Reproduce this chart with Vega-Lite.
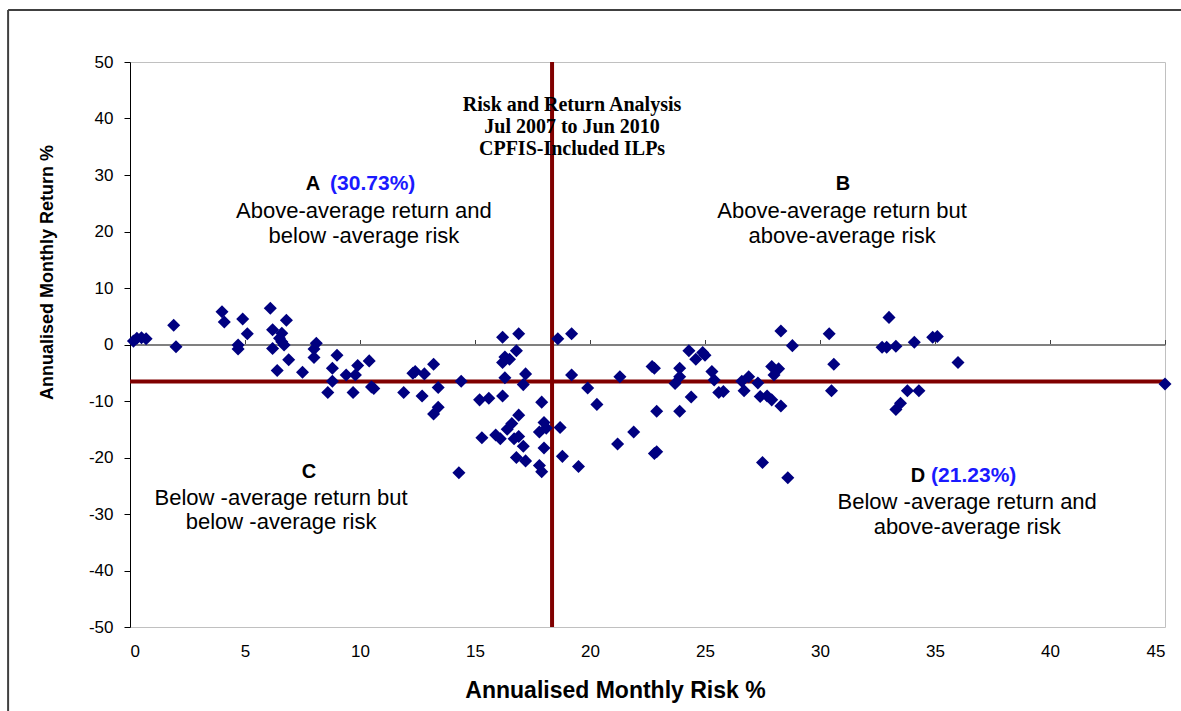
{
  "$schema": "https://vega.github.io/schema/vega-lite/v6.json",
  "autosize": "none",
  "width": 1035,
  "height": 565,
  "padding": {"left": 130, "top": 62, "right": 16, "bottom": 84},
  "background": "white",
  "config": {"view": {"stroke": "#c0c0c0", "strokeWidth": 1}},
  "resolve": {"axis": {"x": "independent", "y": "independent"}},
  "layer": [
    {
      "data": {"values": [{}]},
      "mark": {"type": "rule", "color": "#404040", "strokeWidth": 2, "clip": false},
      "encoding": {
        "x": {"datum": -5.3, "type": "quantitative", "scale": {"domain": [0, 45], "nice": false, "zero": false}, "axis": null},
        "x2": {"datum": 60},
        "y": {"datum": 59.2, "type": "quantitative", "scale": {"domain": [-50, 50], "nice": false, "zero": false}, "axis": null}
      }
    },
    {
      "data": {"values": [{}]},
      "mark": {"type": "rule", "color": "#404040", "strokeWidth": 2, "clip": false},
      "encoding": {
        "x": {"datum": -5.3, "type": "quantitative", "axis": null},
        "y": {"datum": 59.2, "type": "quantitative", "axis": null},
        "y2": {"datum": -80}
      }
    },
    {
      "data": {"values": [{"meanRisk": 18.35}]},
      "mark": {"type": "rule", "color": "#800000", "strokeWidth": 4},
      "encoding": {
        "x": {
          "field": "meanRisk", "type": "quantitative",
          "scale": {"domain": [0, 45], "nice": false, "zero": false},
          "axis": {
            "orient": "top", "offset": -282.5, "values": [0, 5, 10, 15, 20, 25, 30, 35, 40, 45],
            "labels": false, "title": null, "grid": false,
            "domainColor": "#808080", "domainWidth": 2,
            "tickColor": "#404040", "tickSize": 5, "tickWidth": 1
          }
        }
      }
    },
    {
      "data": {"values": [{"meanReturn": -6.55}]},
      "mark": {"type": "rule", "color": "#800000", "strokeWidth": 4},
      "encoding": {
        "y": {"field": "meanReturn", "type": "quantitative", "scale": {"domain": [-50, 50], "nice": false, "zero": false}, "axis": null}
      }
    },
    {
      "data": {"values": [
        {"risk": 0.15, "ret": 0.6}, {"risk": 0.3, "ret": 1.1}, {"risk": 0.5, "ret": 1.2}, {"risk": 0.7, "ret": 1.0},
        {"risk": 1.9, "ret": 3.4}, {"risk": 2.0, "ret": -0.4},
        {"risk": 4.0, "ret": 5.8}, {"risk": 4.1, "ret": 4.0}, {"risk": 4.9, "ret": 4.5}, {"risk": 5.1, "ret": 1.9}, {"risk": 4.7, "ret": -0.1}, {"risk": 4.7, "ret": -0.8},
        {"risk": 6.1, "ret": 6.4}, {"risk": 6.2, "ret": 2.6}, {"risk": 6.6, "ret": 2.0}, {"risk": 6.5, "ret": 1.1}, {"risk": 6.2, "ret": -0.7}, {"risk": 6.7, "ret": -0.1}, {"risk": 6.8, "ret": 4.3}, {"risk": 6.9, "ret": -2.7}, {"risk": 6.4, "ret": -4.6}, {"risk": 6.6, "ret": 0.5},
        {"risk": 7.5, "ret": -4.9}, {"risk": 8.1, "ret": 0.2}, {"risk": 8.0, "ret": -0.8}, {"risk": 8.0, "ret": -2.3}, {"risk": 9.0, "ret": -1.9}, {"risk": 8.8, "ret": -4.2}, {"risk": 8.8, "ret": -6.5}, {"risk": 8.6, "ret": -8.5}, {"risk": 9.4, "ret": -5.4}, {"risk": 9.8, "ret": -5.4}, {"risk": 9.9, "ret": -3.7}, {"risk": 10.4, "ret": -2.9}, {"risk": 9.7, "ret": -8.5}, {"risk": 10.6, "ret": -7.8}, {"risk": 10.5, "ret": -7.5},
        {"risk": 11.9, "ret": -8.5}, {"risk": 12.3, "ret": -5.1}, {"risk": 12.4, "ret": -4.8}, {"risk": 12.8, "ret": -5.2}, {"risk": 13.2, "ret": -3.5}, {"risk": 12.7, "ret": -9.1}, {"risk": 13.4, "ret": -7.6}, {"risk": 13.4, "ret": -11.1}, {"risk": 13.2, "ret": -12.3}, {"risk": 14.4, "ret": -6.5}, {"risk": 14.3, "ret": -22.7},
        {"risk": 15.2, "ret": -9.8}, {"risk": 15.6, "ret": -9.5}, {"risk": 16.2, "ret": -9.1}, {"risk": 15.3, "ret": -16.5}, {"risk": 15.9, "ret": -16.0}, {"risk": 16.1, "ret": -16.7}, {"risk": 16.7, "ret": -16.7}, {"risk": 16.9, "ret": -16.3}, {"risk": 17.1, "ret": -18.0}, {"risk": 17.8, "ret": -15.5}, {"risk": 18.0, "ret": -13.8}, {"risk": 18.1, "ret": -14.8}, {"risk": 18.7, "ret": -14.7}, {"risk": 18.0, "ret": -18.3}, {"risk": 16.8, "ret": -20.0}, {"risk": 17.2, "ret": -20.6}, {"risk": 17.8, "ret": -21.4}, {"risk": 17.9, "ret": -22.5}, {"risk": 18.8, "ret": -19.8}, {"risk": 19.5, "ret": -21.6}, {"risk": 16.9, "ret": -12.5}, {"risk": 16.6, "ret": -14.0}, {"risk": 16.4, "ret": -15.0}, {"risk": 17.9, "ret": -10.2},
        {"risk": 16.2, "ret": 1.3}, {"risk": 16.9, "ret": 1.9}, {"risk": 18.6, "ret": 1.0}, {"risk": 19.2, "ret": 1.9}, {"risk": 16.8, "ret": -1.1}, {"risk": 16.3, "ret": -2.2}, {"risk": 16.2, "ret": -3.2}, {"risk": 16.5, "ret": -2.6}, {"risk": 16.3, "ret": -5.9}, {"risk": 17.2, "ret": -5.2}, {"risk": 17.1, "ret": -7.1}, {"risk": 19.2, "ret": -5.4}, {"risk": 19.9, "ret": -7.7}, {"risk": 20.3, "ret": -10.6},
        {"risk": 21.3, "ret": -5.7}, {"risk": 21.2, "ret": -17.6}, {"risk": 21.9, "ret": -15.5}, {"risk": 22.8, "ret": -19.3}, {"risk": 22.9, "ret": -19.0}, {"risk": 22.7, "ret": -3.9}, {"risk": 22.8, "ret": -4.2}, {"risk": 22.9, "ret": -11.8}, {"risk": 23.9, "ret": -11.8}, {"risk": 23.9, "ret": -4.2}, {"risk": 23.9, "ret": -5.7}, {"risk": 23.7, "ret": -6.9}, {"risk": 24.3, "ret": -1.1}, {"risk": 24.9, "ret": -1.4}, {"risk": 24.6, "ret": -2.6}, {"risk": 25.0, "ret": -1.9}, {"risk": 25.3, "ret": -4.8}, {"risk": 25.4, "ret": -6.3}, {"risk": 25.6, "ret": -8.5}, {"risk": 24.4, "ret": -9.3},
        {"risk": 26.6, "ret": -6.5}, {"risk": 26.9, "ret": -5.7}, {"risk": 27.3, "ret": -6.8}, {"risk": 26.7, "ret": -8.2}, {"risk": 27.4, "ret": -9.2}, {"risk": 27.7, "ret": -9.1}, {"risk": 27.9, "ret": -9.8}, {"risk": 28.3, "ret": -10.9}, {"risk": 27.9, "ret": -3.9}, {"risk": 28.2, "ret": -4.3}, {"risk": 28.0, "ret": -5.4}, {"risk": 28.3, "ret": 2.4}, {"risk": 28.8, "ret": -0.2}, {"risk": 27.5, "ret": -20.9}, {"risk": 28.6, "ret": -23.6}, {"risk": 25.8, "ret": -8.3},
        {"risk": 30.4, "ret": 1.9}, {"risk": 30.6, "ret": -3.5}, {"risk": 30.5, "ret": -8.2}, {"risk": 33.0, "ret": 4.8}, {"risk": 32.7, "ret": -0.5}, {"risk": 32.9, "ret": -0.5}, {"risk": 33.3, "ret": -0.3}, {"risk": 34.1, "ret": 0.4}, {"risk": 34.9, "ret": 1.3}, {"risk": 35.1, "ret": 1.4}, {"risk": 36.0, "ret": -3.2}, {"risk": 33.8, "ret": -8.2}, {"risk": 34.3, "ret": -8.2}, {"risk": 33.5, "ret": -10.4}, {"risk": 33.3, "ret": -11.5}, {"risk": 45.0, "ret": -7.0}
      ]},
      "mark": {"type": "point", "shape": "diamond", "filled": true, "color": "#000080", "size": 170, "opacity": 1},
      "encoding": {
        "x": {
          "field": "risk", "type": "quantitative",
          "scale": {"domain": [0, 45], "nice": false, "zero": false},
          "axis": {
            "orient": "bottom", "values": [0, 5, 10, 15, 20, 25, 30, 35, 40, 45], "grid": false,
            "ticks": false, "domain": false,
            "labelFont": "Liberation Sans", "labelFontSize": 17, "labelColor": "#000000", "labelPadding": 16,
            "title": "Annualised Monthly Risk %", "titleFont": "Liberation Sans", "titleFontSize": 23, "titleFontWeight": "bold", "titleColor": "#000000",
            "titleX": 485, "titleY": 63, "titleAlign": "center", "titleBaseline": "middle"
          }
        },
        "y": {
          "field": "ret", "type": "quantitative",
          "scale": {"domain": [-50, 50], "nice": false, "zero": false},
          "axis": {
            "values": [-50, -40, -30, -20, -10, 0, 10, 20, 30, 40, 50], "grid": false,
            "labelExpr": "replace(datum.label, '\u2212', '-')",
            "domainColor": "#000000", "domainWidth": 1, "tickColor": "#000000", "tickSize": 6, "labelPadding": 11,
            "labelFont": "Liberation Sans", "labelFontSize": 17, "labelColor": "#000000",
            "title": "Annualised Monthly Return %", "titleFont": "Liberation Sans", "titleFontSize": 18, "titleFontWeight": "bold", "titleColor": "#000000",
            "titleX": -83, "titleY": 210, "titleAngle": 270, "titleAlign": "center", "titleBaseline": "middle"
          }
        }
      }
    },
    {
      "data": {"values": [
        {"label": "Risk and Return Analysis", "px": 19.22, "py": 42.4},
        {"label": "Jul 2007 to Jun 2010", "px": 19.22, "py": 38.5},
        {"label": "CPFIS-Included ILPs", "px": 19.22, "py": 34.6}
      ]},
      "mark": {"type": "text", "font": "Liberation Serif", "fontSize": 20, "fontWeight": "bold", "color": "#000000", "align": "center", "baseline": "middle"},
      "encoding": {
        "x": {"field": "px", "type": "quantitative", "axis": null},
        "y": {"field": "py", "type": "quantitative", "axis": null},
        "text": {"field": "label"}
      }
    },
    {
      "data": {"values": [
        {"label": "A", "px": 7.96, "py": 28.4},
        {"label": "B", "px": 31.0, "py": 28.4},
        {"label": "C", "px": 7.78, "py": -22.6},
        {"label": "D", "px": 34.26, "py": -23.3}
      ]},
      "mark": {"type": "text", "font": "Liberation Sans", "fontSize": 20, "fontWeight": "bold", "color": "#000000", "align": "center", "baseline": "middle"},
      "encoding": {
        "x": {"field": "px", "type": "quantitative", "axis": null},
        "y": {"field": "py", "type": "quantitative", "axis": null},
        "text": {"field": "label"}
      }
    },
    {
      "data": {"values": [
        {"label": "(30.73%)", "px": 8.7, "py": 28.4},
        {"label": "(21.23%)", "px": 34.83, "py": -23.3}
      ]},
      "mark": {"type": "text", "font": "Liberation Sans", "fontSize": 21, "fontWeight": "bold", "color": "#1a1aff", "align": "left", "baseline": "middle"},
      "encoding": {
        "x": {"field": "px", "type": "quantitative", "axis": null},
        "y": {"field": "py", "type": "quantitative", "axis": null},
        "text": {"field": "label"}
      }
    },
    {
      "data": {"values": [
        {"label": "Above-average return and", "px": 10.17, "py": 23.6},
        {"label": "below -average risk", "px": 10.17, "py": 19.2},
        {"label": "Above-average return but", "px": 30.96, "py": 23.6},
        {"label": "above-average risk", "px": 30.96, "py": 19.2},
        {"label": "Below -average return but", "px": 6.57, "py": -27.2},
        {"label": "below -average risk", "px": 6.57, "py": -31.4},
        {"label": "Below -average return and", "px": 36.4, "py": -27.9},
        {"label": "above-average risk", "px": 36.4, "py": -32.3}
      ]},
      "mark": {"type": "text", "font": "Liberation Sans", "fontSize": 22, "color": "#000000", "align": "center", "baseline": "middle"},
      "encoding": {
        "x": {"field": "px", "type": "quantitative", "axis": null},
        "y": {"field": "py", "type": "quantitative", "axis": null},
        "text": {"field": "label"}
      }
    }
  ]
}
